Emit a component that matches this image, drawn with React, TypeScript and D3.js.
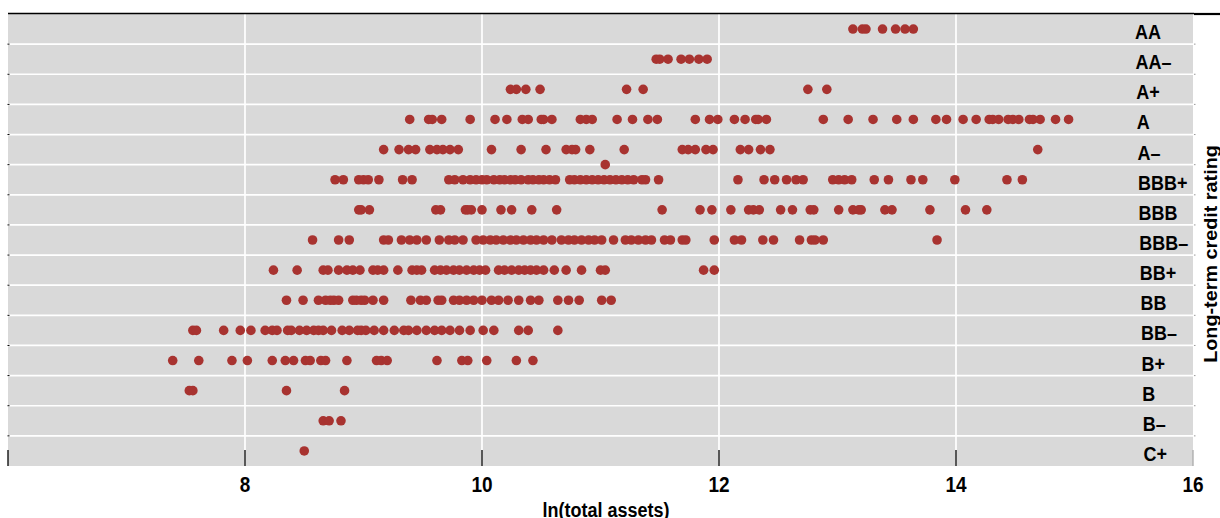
import React from 'react';
import { scaleLinear } from 'd3';

// rating labels, top to bottom
const ratings = ['AA', 'AA–', 'A+', 'A', 'A–', 'BBB+', 'BBB', 'BBB–', 'BB+', 'BB', 'BB–', 'B+', 'B', 'B–', 'C+'];

// ln(total assets) of each bank, by rating
const aa = [13.13, 13.21, 13.24, 13.38, 13.49, 13.57, 13.64];
const aaMinus = [11.47, 11.5, 11.57, 11.68, 11.75, 11.83, 11.9];
const aPlus = [10.24, 10.29, 10.37, 10.49, 11.22, 11.36, 12.75, 12.91];
const a = [
  9.39, 9.55, 9.58, 9.66, 9.9, 10.11, 10.21, 10.34, 10.39, 10.5, 10.52, 10.59, 10.83, 10.88, 10.93,
  11.14, 11.27, 11.4, 11.48, 11.8, 11.92, 11.99, 12.13, 12.22, 12.31, 12.33, 12.4, 12.88, 13.09,
  13.3, 13.5, 13.64, 13.83, 13.92, 14.06, 14.17, 14.28, 14.31, 14.36, 14.44, 14.48, 14.53, 14.62,
  14.65, 14.71, 14.84, 14.95,
];
const aMinus = [
  9.17, 9.3, 9.38, 9.44, 9.56, 9.62, 9.67, 9.73, 9.8, 10.08, 10.33, 10.54, 10.71, 10.76, 10.79,
  10.91, 11.2, 11.69, 11.74, 11.8, 11.89, 11.95, 12.18, 12.25, 12.35, 12.43, 14.69,
];
// one bank sits between A– and BBB+
const splitRating = [11.04];
const bbbPlus = [
  8.76, 8.83, 8.96, 9.0, 9.04, 9.13, 9.33, 9.41, 9.72, 9.77, 9.84, 9.9, 9.95, 10.0, 10.04, 10.1,
  10.15, 10.19, 10.24, 10.28, 10.33, 10.39, 10.43, 10.48, 10.52, 10.57, 10.62, 10.74, 10.78, 10.83,
  10.88, 10.93, 10.98, 11.03, 11.08, 11.13, 11.18, 11.23, 11.28, 11.35, 11.38, 11.49, 12.16, 12.38,
  12.47, 12.57, 12.65, 12.71, 12.96, 13.01, 13.06, 13.12, 13.31, 13.43, 13.62, 13.72, 13.99, 14.43,
  14.56,
];
const bbb = [
  8.96, 8.98, 9.05, 9.61, 9.65, 9.86, 9.88, 9.91, 10.0, 10.16, 10.25, 10.42, 10.63, 11.52, 11.84,
  11.94, 12.1, 12.25, 12.29, 12.34, 12.52, 12.62, 12.77, 12.8, 13.01, 13.13, 13.18, 13.2, 13.4,
  13.46, 13.78, 14.08, 14.26,
];
const bbbMinus = [
  8.57, 8.79, 8.88, 9.17, 9.21, 9.32, 9.39, 9.45, 9.53, 9.64, 9.72, 9.77, 9.84, 9.95, 10.01, 10.07,
  10.12, 10.18, 10.24, 10.29, 10.35, 10.41, 10.46, 10.52, 10.59, 10.67, 10.73, 10.78, 10.84, 10.9,
  10.95, 11.01, 11.11, 11.21, 11.26, 11.32, 11.38, 11.43, 11.54, 11.59, 11.69, 11.72, 11.96, 12.13,
  12.19, 12.37, 12.46, 12.68, 12.78, 12.81, 12.88, 13.84,
];
const bbPlus = [
  8.24, 8.44, 8.66, 8.7, 8.79, 8.86, 8.91, 8.97, 9.08, 9.12, 9.17, 9.29, 9.41, 9.45, 9.49, 9.6, 9.65,
  9.7, 9.76, 9.81, 9.87, 9.93, 9.98, 10.03, 10.14, 10.19, 10.25, 10.31, 10.36, 10.41, 10.46, 10.52,
  10.61, 10.71, 10.84, 11.0, 11.04, 11.87, 11.96,
];
const bb = [
  8.35, 8.49, 8.62, 8.68, 8.72, 8.75, 8.79, 8.91, 8.94, 8.98, 9.01, 9.08, 9.17, 9.4, 9.48, 9.53, 9.63,
  9.66, 9.76, 9.81, 9.87, 9.93, 10.0, 10.08, 10.14, 10.22, 10.31, 10.41, 10.48, 10.64, 10.73, 10.82,
  11.01, 11.09,
];
const bbMinus = [
  7.56, 7.59, 7.82, 7.96, 8.05, 8.17, 8.23, 8.27, 8.36, 8.39, 8.46, 8.52, 8.58, 8.62, 8.66, 8.73,
  8.82, 8.88, 8.95, 8.98, 9.02, 9.09, 9.17, 9.26, 9.34, 9.38, 9.45, 9.53, 9.6, 9.66, 9.73, 9.81, 9.9,
  10.01, 10.1, 10.31, 10.39, 10.64,
];
const bPlus = [
  7.39, 7.61, 7.89, 8.02, 8.23, 8.34, 8.41, 8.51, 8.55, 8.64, 8.68, 8.86, 9.11, 9.15, 9.2, 9.62,
  9.83, 9.88, 10.04, 10.29, 10.43,
];
const b = [7.53, 7.56, 8.35, 8.84];
const bMinus = [8.66, 8.71, 8.81];
const cPlus = [8.5];

const rows = [aa, aaMinus, aPlus, a, aMinus, bbbPlus, bbb, bbbMinus, bbPlus, bb, bbMinus, bPlus, b, bMinus, cPlus];

const xTicks = [6, 8, 10, 12, 14, 16];
const xGrid = [8, 10, 12, 14];

const FONT = '"Liberation Sans", Arial, sans-serif';
const DOT = '#a83330';

export default function App() {
  const width = 1220;
  const height = 518;
  const left = 8;
  const right = 1193;
  const top = 14;
  const bottom = 466;

  const x = scaleLinear().domain([6, 16]).range([left, right]);
  const y = scaleLinear().domain([-0.5, 14.5]).range([top, bottom]);

  const points: { v: number; r: number }[] = [];
  rows.forEach((vals, i) => vals.forEach((v) => points.push({ v, r: i })));
  splitRating.forEach((v) => points.push({ v, r: 4.5 }));

  const bounds = ratings.slice(1).map((_, i) => i + 0.5);

  return (
    <svg width={width} height={height} style={{ position: 'absolute', left: 0, top: 0 }}>
      <rect x={left} y={top} width={right - left} height={bottom - top} fill="#d9d9d9" />
      {bounds.map((k) => (
        <line key={'h' + k} x1={left} x2={right} y1={y(k)} y2={y(k)} stroke="#fff" strokeWidth={1.7} />
      ))}
      {xGrid.map((t) => (
        <line key={'v' + t} x1={x(t)} x2={x(t)} y1={top} y2={bottom} stroke="#fff" strokeWidth={1.7} />
      ))}

      {/* frame at top */}
      <line x1={left} x2={1194} y1={13.5} y2={13.5} stroke="#000" strokeWidth={1.3} />
      <line x1={1194} x2={width} y1={14} y2={14} stroke="#000" strokeWidth={2.2} />

      {/* small row ticks on both sides */}
      {bounds.map((k) => (
        <g key={'t' + k}>
          <line x1={left - 0.5} x2={left + 1.5} y1={y(k)} y2={y(k)} stroke="#000" strokeWidth={1} />
          <line x1={right + 1} x2={right + 2.5} y1={y(k)} y2={y(k)} stroke="#999" strokeWidth={1} />
        </g>
      ))}

      {points.map((p, i) => (
        <circle key={i} cx={x(p.v)} cy={y(p.r)} r={4.8} fill={DOT} />
      ))}

      {ratings.map((lab, i) => (
        <text
          key={lab}
          transform={`translate(${1135 + i * 0.6},${y(i) + 10}) scale(1,1.12)`}
          fontFamily={FONT}
          fontSize={18}
          fontWeight="bold"
          fill="#000"
        >
          {lab}
        </text>
      ))}

      {xTicks.map((t) => (
        <g key={'x' + t}>
          <line
            x1={x(t)}
            x2={x(t)}
            y1={bottom - 16}
            y2={bottom}
            stroke={t === 16 ? '#aaa' : '#000'}
            strokeWidth={1.3}
          />
          {t > 6 && (
            <text
              transform={`translate(${x(t)},${491.5}) scale(1,1.12)`}
              textAnchor="middle"
              fontFamily={FONT}
              fontSize={19}
              fontWeight="bold"
            >
              {t}
            </text>
          )}
        </g>
      ))}

      <text
        transform={`translate(606,517) scale(1,1.1)`}
        textAnchor="middle"
        fontFamily={FONT}
        fontSize={18}
        fontWeight="bold"
      >
        ln(total assets)
      </text>
      <text
        transform={`translate(1217,254) rotate(-90) scale(1.1,1)`}
        textAnchor="middle"
        fontFamily={FONT}
        fontSize={18}
        fontWeight="bold"
      >
        Long-term credit rating
      </text>
    </svg>
  );
}
